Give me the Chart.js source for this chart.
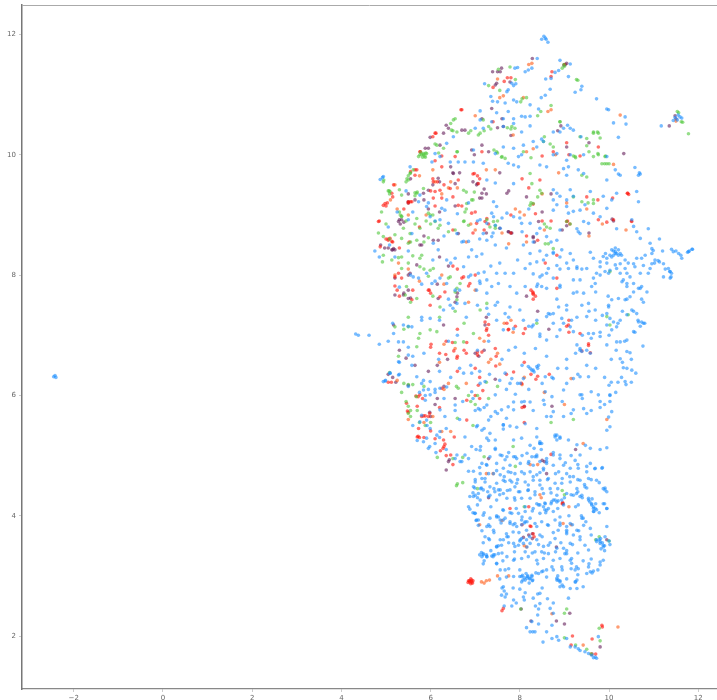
<!DOCTYPE html>
<html>
<head>
<style>
body { margin: 0; background: #fff; }
#wrap { width: 717px; height: 700px; }
</style>
<script src="https://cdn.jsdelivr.net/npm/chart.js@4/dist/chart.umd.min.js"></script>
</head>
<body>
<div id="wrap"><canvas id="myChart" width="717" height="700"></canvas></div>
<script>
var xTicks = [-2, 0, 2, 4, 6, 8, 10, 12];
var yTicks = [2, 4, 6, 8, 10, 12];

// values, [x, y]
var blue = [[-2.45,6.31],[-2.42,6.33],[-2.4,6.3],[8.49,11.92],[8.54,11.97],[8.57,11.94],[8.59,11.92],[8.63,11.87],[8.39,11.6],[8.9,11.57],[9.13,11.51],[8.87,11.4],[8.79,11.37],[8.7,11.27],[8.58,11.26],[9.09,11.3],[8.12,11.38],[8.19,11.41],[8.27,11.44],[7.89,11.44],[7.95,11.45],[7.82,11.19],[7.91,11.18],[7.86,11.15],[7.21,11.18],[9.39,11.14],[9.37,11.08],[9.24,11.04],[8.68,11.09],[8.57,10.99],[8.48,10.95],[9.72,10.93],[7.71,11.05],[7.74,11.08],[7.35,10.97],[7.5,10.88],[7.39,10.89],[7.67,10.86],[7.86,10.91],[7.93,10.88],[9.95,10.76],[9.99,10.75],[8.23,10.83],[8.42,10.76],[7.11,10.73],[7.74,10.72],[7.48,10.7],[8.04,10.64],[8.12,10.63],[8.23,10.64],[7.63,10.6],[7.86,10.6],[10.36,10.63],[10.1,10.53],[10.38,10.51],[11.17,10.48],[11.55,10.66],[11.59,10.63],[11.48,10.62],[11.53,10.58],[11.63,10.61],[11.44,10.57],
[7.11,10.58],[7.37,10.55],[7.63,10.47],[7.86,10.52],[8.04,10.38],[8.23,10.48],[7,10.44],[7.18,10.44],[8.75,10.38],[8.98,10.44],[9.07,10.49],[9.13,10.44],[8.9,10.38],[9.2,10.41],[9.37,10.3],[10.21,10.29],[8.49,10.26],[8.53,10.22],[8.3,10.22],[8.08,10.16],[7.86,10.11],[7.63,10.13],[6.96,10.08],[6.36,10.19],[6.51,10.3],[6.1,10.02],[6.21,9.97],[6.44,9.88],[6.62,9.88],[6.77,9.88],[6.96,9.88],[7.18,9.86],[7.45,10.02],[7.74,9.86],[7.86,9.83],[8.04,10],[7.97,9.97],[8.38,10.13],[8.75,10],[8.83,10.02],[9.05,9.91],[9.13,10],[9.09,9.8],[9.43,10],[9.95,9.97],[10.58,9.79],[10.68,9.7],[10.7,9.68],[10.66,9.66],[10.21,9.68],[10.14,9.75],[10.25,9.66],[9.31,9.75],[9.43,9.69],[9.05,9.66],[8.98,9.77],[8.45,9.83],[8.6,9.8],[7.97,9.8],[6.03,9.88],[5.54,9.8],[4.87,9.59],[4.92,9.62],[4.94,9.64],
[7.26,9.58],[7.45,9.53],[7.86,9.52],[8.75,9.42],[8.83,9.36],[8.75,9.25],[8.9,9.31],[9.13,9.42],[9.2,9.31],[9.05,9.25],[9.58,9.39],[9.87,9.31],[9.95,9.58],[10.17,9.36],[10.66,9.22],[10.62,9.39],[7.41,9.22],[7.48,9.14],[7.37,9.03],[7.41,8.97],[6.36,9.25],[6.25,9.11],[6.32,9.08],[5.76,9.33],[5.73,9.22],[8.83,9.17],[8.75,9.08],[9.05,9.14],[9.09,9.03],[9.2,9.06],[9.35,9.08],[9.46,9.17],[9.65,9.03],[9.95,9.11],[10.06,9.25],[9.8,8.97],[9.43,8.89],[9.54,8.86],[9.28,8.77],[9.31,8.72],[9.35,8.69],[10.17,8.77],[10.51,8.92],[10.55,8.81],[10.62,8.72],[10.88,8.77],[10.7,8.61],[10.92,8.53],[11.13,8.6],[10.99,8.41],[10.96,8.36],[11.2,8.4],[11.4,8.43],[11.5,8.4],[11.61,8.33],[11.8,8.4],[11.86,8.43],[11.76,8.38],[11.13,8.22],[11.02,8.2],[11.1,8.24],[11.26,8.1],[11.36,8.06],[11.39,7.97],[11.4,8.03],
[10.1,8.4],[10.14,8.45],[10.21,8.42],[10.14,8.36],[10.25,8.36],[10.28,8.33],[10.06,8.3],[9.92,8.36],[9.8,8.22],[9.95,8.2],[10.36,8.25],[10.43,8.2],[10.58,8.14],[10.7,8.03],[10.62,8.28],[10.77,8.16],[10.17,8.11],[10.25,8.03],[9.99,8.03],[9.8,8],[9.65,7.95],[10.32,7.92],[10.4,7.86],[10.66,7.78],[10.55,7.72],[10.73,7.6],[10.77,7.55],[10.85,7.72],
[9.28,8.14],[9.39,8.1],[9.65,8.28],[9.58,8.38],[9.2,8.25],[9.05,8.2],[8.9,8.1],[8.83,8.16],[8.75,8.38],[8.6,8.33],[8.45,8.4],[8.23,8.36],[8.08,8.5],[8.3,8.02],[8.5,8],[8.6,8.03],[8.9,8.3],[8.4,7.85],[8.6,7.78],[8.9,7.8],[9.2,7.92],[9.43,7.7],[9.7,7.72],[9.98,7.65],[9.99,7.5],[9.85,7.33],[9.7,7.25],[9.55,7.4],[9.28,7.3],[9.05,7.5],[8.83,7.6],[8.68,7.35],[8.98,7.2],[9.2,7.06],[9.4,7],[9.6,6.95],[9.8,7.05],[10,7],[10.2,7.2],[10.3,7.4],[10.4,7.6],[10.55,7.4],[10.65,7.25],[10.7,7.15],[10.8,7.2],[10.58,7.05],[10.35,6.9],[10.16,6.75],[10.05,6.6],[10.3,6.55],[10.5,6.6],[10.4,6.45],[10.28,6.3],[10.2,6.22],[10.15,6.05],[10.02,6],[9.9,6.3],[9.7,6.45],[9.5,6.5],[9.3,6.35],[9.05,6.6],[9.25,6.7],[9.5,6.75],[8.85,6.45],[8.72,6.3],[8.5,6.2],[8.6,6.65],[8.35,6.78],[8.1,6.7],[8.05,6.5],[8.4,6.45],[8.42,6.5],[8.3,6.42],[8.2,6.1],[7.95,6.2],[7.9,6.02],[8.1,5.9],[8.3,5.75],[8.55,5.85],[8.7,5.65],[8.95,5.9],[9.15,5.7],[9.4,5.95],[9.6,5.75],[9.8,5.8],[10.02,5.9],
[4.94,6.23],[4.98,6.24],[4.99,6.25],[5.09,6.37],[9.35,6.75],[9.39,6.73],[9.58,6.7],[9.95,6.84],[10.17,6.89],[10.4,6.73],[10.47,6.71],[10.76,6.82],[10.25,6.61],[10.32,6.46],[10.51,6.42],[10.6,6.37],[10.38,6.18],[10.36,6.23],[10.5,6.22],[10,6.17],[10.05,6.22],[10.02,6.01],[9.9,5.85],[9.76,6.01],[9.6,6.06],[9.35,6.01],[9.43,5.78],[9.5,5.7],[9.8,5.9],[9.99,5.64],[10.06,5.73],[10.02,5.48],[9.95,5.42],[9.95,5.13],[9.8,5.1],[9.58,5.12],[9.47,5.17],[9.28,5.18],[9.09,5.26],[8.9,5.31],[8.79,5.34],[8.83,5.26],[8.45,5.2],[8.38,5.45],[8.12,5.53],[7.93,5.47],[7.78,5.49],[7.63,5.51],[7.63,5.44],
[7.45,5.1],[7.6,5],[7.75,5.05],[7.9,4.98],[8.05,5],[8.2,4.9],[8.32,5.12],[8.48,5.1],[8.6,4.9],[8.75,5.05],[8.9,4.95],[9.02,4.88],[9.15,5],[9.3,4.85],[9.5,4.82],[9.68,4.78],[9.85,4.8],[7.25,4.85],[7.1,4.8],[7,4.6],[7.15,4.62],[7.3,4.7],[7.48,4.75],[7.65,4.65],[7.8,4.72],[7.95,4.6],[8.1,4.7],[8.3,4.65],[8.45,4.72],[8.62,4.6],[8.8,4.7],[8.95,4.62],[9.12,4.65],[9.3,4.6],[9.45,4.52],[9.6,4.6],[9.78,4.55],[9.95,4.4],
[6.95,4.38],[7.05,4.3],[7.12,4.45],[7.28,4.4],[7.42,4.45],[7.55,4.35],[7.72,4.42],[7.88,4.3],[8,4.4],[8.18,4.42],[8.34,4.35],[8.5,4.45],[8.7,4.38],[8.85,4.45],[9,4.3],[9.15,4.35],[9.3,4.4],[9.4,4.3],[9.62,4.28],[9.7,4.2],[9.72,4.1],[9.78,4.05],[9.9,4.2],[9.95,4.12],
[6.85,4.15],[6.95,4.05],[7.05,4.18],[7.2,4.05],[7.35,4.15],[7.48,4],[7.62,4.1],[7.78,4.05],[7.92,4.12],[8.05,3.98],[8.12,4.15],[8.28,4.08],[8.42,4.18],[8.58,4.05],[8.7,4.2],[8.85,4.12],[8.98,4.18],[9.1,4],[9.25,4.15],[9.38,4],
[7.02,3.92],[7.15,3.75],[7.3,3.85],[7.42,3.72],[7.58,3.88],[7.7,3.7],[7.85,3.85],[7.98,3.72],[8.1,3.88],[8.22,3.65],[8.38,3.82],[8.5,3.65],[8.62,3.85],[8.75,3.72],[8.9,3.88],[9.05,3.7],[9.18,3.85],[9.32,3.75],[9.48,3.9],[9.6,3.68],[9.78,3.6],[9.85,3.55],[9.9,3.5],[10,3.58],[10.02,3.52],[9.82,3.45],[9.9,3.42],
[7.18,3.55],[7.32,3.6],[7.35,3.42],[7.25,3.35],[7.4,3.32],[7.52,3.5],[7.6,3.38],[7.75,3.55],[7.88,3.4],[8,3.58],[8.12,3.4],[8.15,3.6],[8.28,3.38],[8.42,3.52],[8.55,3.38],[8.68,3.55],[8.8,3.4],[8.92,3.55],[9.05,3.42],[9.18,3.52],[9.3,3.38],[9.42,3.25],[9.55,3.2],[9.62,3.05],[9.75,3.1],[9.8,3.18],[9.6,3.28],
[7.2,3.25],[7.1,3.35],[7.48,3.2],[7.62,3.25],[7.75,3.12],[7.88,3.28],[8,3.1],[8.1,2.97],[8.18,3],[8.22,2.95],[8.28,2.92],[8.36,3.05],[8.4,3.2],[8.52,3.08],[8.6,2.98],[8.72,3.15],[8.85,3],[8.95,3.1],[9.05,2.95],[9.15,3.12],[9.25,2.9],[9.3,3.02],[9.42,2.82],[7.55,2.95],[7.7,2.98],[7.6,2.8],[7.65,2.75],[7.7,2.7],[7.85,2.8],[8,2.78],[8.12,2.72],[8.4,2.7],[8.5,2.8],[8.62,2.62],[8.75,2.55],[8.95,2.85],[8.35,2.5],[8.42,2.45],[8.1,2.6],[7.92,2.55],[7.82,2.5],[7.65,2.5],[8.75,2.38],
[8.15,2.14],[8.27,2.24],[8.23,2.07],[8.29,2.07],[8.34,2.07],[8.42,2.2],[8.6,2.07],[8.72,2.18],[8.72,1.96],[8.83,1.99],[8.87,1.93],[9.05,1.96],[9.13,1.82],[9.24,1.82],[9.31,1.79],[9.35,1.76],[9.46,1.74],[9.54,1.71],[9.61,1.68],[9.69,1.65],[9.72,1.63],[9.65,1.64],[9.76,1.99],[8.4,2.35],[8.52,1.9],
[5.8,6.2],[5.95,6.1],[6.1,6.05],[6.3,5.95],[6.55,5.75],[6.72,5.9],[6.95,5.95],[7,5.75],[7.2,5.8],[7.35,5.65],[7.5,5.7],[7.7,5.62],[7.05,5.5],[7.2,5.45],[6.65,5.6],[6.35,5.45],[6.2,5.3],[5.92,5.5],[5.98,5.15],[6.12,5.05],[6.35,5.1],[6.55,4.95],[6.7,4.9],[6.85,4.95],[7.02,5.1],[7.12,5.15],[7.3,5.25],[5.88,6],[6.2,6.4],[6.45,6.3],[6.65,6.45],[6.9,6.5],[7.1,6.4],[7.32,6.35],[7.55,6.25],[7.7,6.1],[5.3,6.55],[5.6,6.65],[5.85,6.7],[6.18,6.6],[5.5,6.8],[7.6,6.6],[7.75,6.75],[6.6,7],[6.4,6.9],[7.05,6.75],[7.3,6.9],[7.9,6.8],[5.3,6.35],[5.5,6.15],[5.75,6.05],[5.6,5.5],[5.7,5.25],
[4.32,7.02],[4.38,7],[4.62,7],[4.85,6.85],[5.05,6.9],[5.15,7.2],[5.5,7.15],[5.8,7.3],[6.2,7.25],[6.5,7.45],[6.8,7.3],[7.05,7.5],[7.3,7.35],[7.5,7.55],[7.75,7.3],[8,7.42],[8.2,7.15],[8.45,7.02],[7.1,7.9],[6.9,8],[6.65,7.75],[6.4,7.6],[6.1,7.9],[5.8,7.85],[5.55,8],[5.3,7.8],[5.2,8.3],[4.85,8.3],[4.75,8.4],[5.08,8.5],[5.5,8.4],[6.05,8.25],[6.45,8.2],[6.85,8.3],[7.15,8.35],[7.45,8.5],[7.7,8.45],[7.95,8.25],[7.55,8.2],[7.35,8.15],[7.2,8.05],[6.3,8.65],[6.7,8.55],[7.1,8.6],[7.4,8.7],[7.6,8.95],[6.1,8.9],[6.6,9.02],[6.85,9.2],[7.05,8.9],[5.95,9.2],[5.45,9.4],[5.25,9.05],[5.05,8.8],[5.6,9.05],[8,8.95],[8.2,9.1],[8.05,8.72],[8.3,8.55],[8.7,8.55],[8.9,8.75]];

var blueLower = [[7.45,5.12],[7.56,5.01],[7.71,4.98],[7.86,4.98],[7.93,4.95],[7.67,4.93],[7.33,4.98],[7.15,4.87],[7.26,4.84],[7.48,4.87],[7.63,4.79],[7.78,4.84],[8.01,4.87],[8.16,5.04],[8.27,4.98],[8.38,4.98],[8.45,4.9],[8.3,4.84],[8.6,4.95],[8.75,5.01],[8.9,5.01],[8.98,4.84],[9.13,4.79],[9.24,4.92],[9.35,5.01],[9.31,4.79],[9.58,4.87],[9.69,4.79],[9.84,4.79],[9.5,4.73],[9.2,4.65],[9.05,4.7],[8.87,4.73],[8.75,4.84],[8.53,4.76],[8.38,4.68],[8.23,4.73],[8.04,4.73],[7.89,4.7],[7.74,4.73],[7.56,4.68],[7.41,4.7],[7.22,4.62],[7.11,4.7],[6.96,4.74],[6.85,4.74],[7,4.56],[6.96,4.48],[7.22,4.56],[7.48,4.54],[7.63,4.59],[7.82,4.56],[7.93,4.54],[8.12,4.56],[8.3,4.59],[8.45,4.51],[8.64,4.62],[8.79,4.54],[8.94,4.54],[9.13,4.56],[9.35,4.59],[9.54,4.62],[9.72,4.59],[9.87,4.45],[9.91,4.43],[9.46,4.48],[9.28,4.45],[9.2,4.34],[9.39,4.34],[9.05,4.37],[8.83,4.34],[8.68,4.45],[8.53,4.37],[8.34,4.4],[8.19,4.43],[7.97,4.4],[7.78,4.43],[7.63,4.37],[7.52,4.43],[7.33,4.48],[7.18,4.43],[7.07,4.37],[7,4.34],[6.88,4.32],[7.11,4.26],[7.3,4.32],[7.48,4.26],[7.71,4.29],[7.89,4.26],[8.04,4.29],[8.23,4.29],[8.38,4.2],[8.57,4.2],[8.75,4.26],[8.83,4.23],[8.94,4.26],[9.35,4.32],[9.54,4.26],[9.61,4.2],[9.65,4.15],[9.69,4.12],[9.87,4.2],[9.95,4.12],[9.65,4.07],[9.39,3.96],[9.43,3.84],[9.28,3.76],[9.05,3.82],[8.9,3.98],[8.75,4.07],[8.6,4.09],[8.45,4.04],[8.3,4.12],[8.12,4.07],[7.97,4.04],[7.82,4.04],[7.63,4.09],[7.48,3.98],[7.33,3.96],[7.18,4.01],[7,4.04],[7.03,3.93],[7.07,3.84],[7.26,3.82],[7.41,3.76],[7.56,3.93],[7.67,3.96],[7.78,3.9],[7.89,3.87],[8.04,3.93],[8.16,3.9],[8.34,3.87],[8.49,3.9],[8.64,3.84],[8.79,3.93],[8.9,3.84],[9.05,3.73],[9.13,3.87],[9.35,3.65],[9.58,3.79],[9.72,3.6],[9.8,3.54],[9.87,3.48],[9.95,3.82],[9.91,3.65],[9.54,3.43],[9.13,3.54],[8.98,3.46],[8.83,3.46],[8.64,3.37],[8.49,3.4],[8.34,3.4],[8.16,3.48],[8.01,3.6],[7.86,3.54],[7.71,3.65],[7.56,3.6],[7.48,3.48],[7.3,3.62],[7.18,3.37],[7.26,3.32],[7.41,3.35],[7.52,3.37],[7.71,3.32],[7.86,3.26],[8.04,3.29],[8.19,3.32],[8.38,3.26],[8.53,3.29],[8.75,3.26],[8.9,3.29],[9.05,3.37],[9.13,3.26],[9.16,3.21],[8.94,3.15],[8.75,3.1],[8.6,3.1],[8.49,3.07],[8.42,3.04],[8.27,2.99],[8.16,2.96],[8.07,2.93],[8.04,2.99],[7.86,2.99],[7.67,3.1],[7.56,3.1],[7.48,3.21],[7.18,3.2],[7.15,3.32],[7.63,2.82],[7.59,2.68],[7.67,2.65],[7.86,2.6],[8.08,2.65],[8.3,2.63],[8.45,2.71],[8.45,2.54],[8.68,2.46],[8.9,2.82],[8.98,2.82],[9.13,2.79],[9.28,2.79],[9.09,2.63],[8.83,2.93],[8.9,2.92],[9.28,2.93],[9.24,3.1],[9.31,3.12],[9.5,3.04],[9.58,3.07],[9.65,3.08],[9.87,3.26],[9.8,3.23],[9.54,3.15]];

var blueRight = [[10.06,8.42],[10.14,8.39],[10.17,8.36],[10.1,8.33],[10.21,8.33],[10.02,8.33],[9.95,8.28],[9.87,8.31],[9.8,8.14],[9.72,8.03],[9.91,8.06],[10.02,8.08],[10.14,8.17],[10.25,8.19],[10.36,8.11],[10.4,8.03],[10.47,7.97],[10.29,7.89],[10.4,7.81],[10.55,7.86],[10.7,7.78],[10.73,7.81],[10.47,7.64],[10.36,7.59],[10.21,7.61],[9.99,7.47],[10.06,7.59],[9.95,7.36],[10.02,7.28],[10.1,7.22],[10.25,7.25],[10.4,7.34],[10.51,7.42],[10.62,7.36],[10.73,7.22],[10.77,7.2],[10.66,7.22],[10.55,7.06],[10.4,6.92],[10.25,6.89],[10.17,7.14],[9.95,7.17],[10.06,7.09],[9.8,6.98],[9.65,7.03],[9.54,7.03],[9.35,6.78],[9.28,6.84],[9.13,7.14],[9.16,7.25],[9.05,7.42],[8.87,7.47],[8.75,7.36],[8.64,7.36],[8.94,7.28],[8.9,7.09],[8.83,6.98],[8.6,6.92],[8.45,6.98],[8.3,7.17],[8.38,7.25],[9.5,7.31],[9.69,7.42],[9.54,7.53],[9.39,7.5],[9.28,7.72],[9.2,7.7],[9.35,7.92],[9.5,8.11],[9.28,8.11],[9.09,8.11],[8.9,7.83],[8.75,7.95],[8.64,8.11],[8.45,7.97],[8.49,7.81],[8.38,7.81],[9.61,7.81],[9.69,7.86],[10.73,8.28],[10.96,8.19],[11.03,8.25],[10.92,8.11],[10.88,8.03],[11.22,8.19],[11.33,8.11],[11.37,8.06],[11.37,7.95],[11.22,7.97],[10.55,8.19],[10.81,8.33],[10.96,8.44],[11.44,8.39],[11.56,8.36],[11.63,8.28],[11.78,8.39],[11.87,8.43]];

var blueLeft = [[5.5,8.92],[5.58,8.69],[5.91,9.14],[5.99,8.97],[6.21,8.92],[6.4,8.86],[6.59,8.69],[6.74,8.56],[6.85,8.56],[6.92,8.42],[7.03,8.31],[6.06,8.53],[6.17,8.42],[6.36,8.25],[6.55,8.28],[6.74,8.14],[6.85,7.97],[5.61,7.97],[5.73,7.95],[5.91,8.03],[6.03,7.86],[6.21,7.95],[6.36,7.86],[6.55,7.75],[6.77,7.53],[6.59,7.53],[6.44,7.5],[6.29,7.42],[5.99,7.28],[5.8,7.25],[5.58,7.14],[5.39,7.17],[5.17,7.03],[5.28,6.89],[5.39,6.89],[7.07,8.03],[7.26,7.92],[7.48,8.03],[7.67,8.03],[7.86,8.03],[8.12,8.11],[8.23,8.19],[8.38,8.22],[8.53,8.25],[7.11,7.86],[7.26,7.7],[7.03,7.75],[7.37,7.81],[7.52,7.86],[7.78,7.81],[7.93,7.7],[8.12,7.81],[7.45,7.5],[7.26,7.45],[7.67,7.36],[7.78,7.47],[7.48,7.25],[7.63,7.09],[7.86,7.11],[8.08,7.25],[8.27,7.14],[8.6,7.31],[8.75,7.2],[7.18,8.69],[7.26,8.58],[7.37,8.64],[7.56,8.78],[7.45,8.83],[7.26,8.86],[7.11,8.92],[7.71,9.03],[7.86,8.97],[8.04,8.86],[8.23,8.86],[8.38,8.69],[8.45,8.78],[8.6,8.64],[8.75,8.36],[8.94,8.42],[9.13,8.36],[8.83,8.58],
[5.28,6.56],[5.5,6.67],[5.58,6.5],[5.09,6.37],[5.28,6.34],[5.69,6.31],[5.84,6.25],[5.99,6.23],[6.1,6.1],[6.21,6.12],[6.36,6.14],[6.55,5.84],[6.74,6.37],[6.92,6.37],[7.11,6.2],[7.22,6.23],[6.92,6.06],[7.11,5.76],[7.26,5.84],[7.45,6.01],[7.67,6.37],[7.82,6.28],[7.78,6.2],[8.01,6.2],[8.08,6.28],[8.23,6.45],[8.27,6.42],[8.32,6.39],[8.38,6.48],[8.19,6.48],[8.57,6.31],[8.75,6.28],[9.05,6.45],[9.2,6.28],[9.35,6.31],[9.54,6.31],[9.05,6.2],[8.98,6.09],[9.39,6.01],[8.57,6.06],[8.72,5.98],[8.53,5.92],[8.23,5.89],[8.04,5.89],[7.86,5.89],[7.74,5.81],[7.86,5.76],[7.59,5.76],[7.45,5.73],[7.3,5.59],[7.07,5.78],[7.03,5.48],[7.15,5.42],[7.63,5.51],[7.86,5.26],[8.04,5.29],[8.23,5.17],[8.45,5.2],[8.6,5.65],[8.75,5.73],[8.98,5.65],[9.2,5.76],[5.99,6.01],[5.84,6.09],[5.88,5.92],[5.76,5.56],[5.8,5.67],[5.91,5.59],[5.99,5.45],[6.14,5.34],[5.91,5.29],[5.84,5.23],[5.95,5.12],[6.1,5.2],[6.21,5.4],[6.32,5.65],[6.21,5.76],[6.59,5.01],[6.66,4.9],[6.77,5.01],[6.92,5.15],[6.77,5.31],[7.26,5.29],[7.33,5.37],[7.45,5.26],[7.11,5.09]];

var blueDense = [[8,2.99],[8.06,3.01],[8.12,2.93],[8.17,2.99],[8.23,2.96],[8.27,3.01],[8.04,2.9],[8.21,2.88],[8.29,2.93],[8.14,3.04],[7.18,3.35],[7.37,3.33],[7.44,3.35],[7.26,3.32],[7.14,3.39],[8.04,3.62],[7.97,3.51],[7.89,3.49],[8.08,3.54],[8.23,3.54],[8.38,3.6],[8.45,3.68],[8.15,3.76],[8.04,3.85],[8.12,3.9],[8.23,3.96],[7.93,3.82],[7.85,3.73],[7.74,3.65],[7.63,3.6],[7.59,3.51],[7.48,3.49],[8.56,4.21],[8.64,4.12],[8.71,4.23],[8.79,4.26],[8.86,4.25],[8.56,4.1],[8.53,4.15],[8.45,4.18],[9.57,4.23],[9.61,4.18],[9.65,4.12],[9.66,4.07],[9.54,4.29],[9.8,3.57],[9.87,3.51],[9.72,3.57],[9.81,3.62],[9.01,3.37],[9.16,3.29],[9.27,3.15],[9.24,2.9],[8.86,2.93],[8.9,2.9],[8.83,2.96],[8.45,5.23],[8.83,5.34],[8.79,5.31],[8.9,5.29],[8.38,5.31],[8.49,5.2],[8.34,4.98],[8.38,5.01],[8.19,4.87],[8.53,4.79],[8.6,4.87],[8.45,4.59],[8.19,4.51],[7.78,4.59],[7.67,4.57],[7.89,4.48],[7.56,4.43],[7.44,4.4],[7.33,4.34],[7.14,4.46],[6.99,4.46],[6.96,4.32],[6.88,4.11],[6.99,4.04],[7.07,3.93],[7.22,3.65],[7.33,3.82],[7.52,3.98],[7.63,3.93],[7.78,3.87],[8.86,3.76],[8.79,3.62],[8.64,3.51],[8.53,3.49],[9.2,3.68],[9.35,3.6],[9.46,3.51],[9.05,3.76],[9.42,3.96],[9.31,4.18],[9.27,4.37],[9.5,4.46],[9.91,4.46]];

var green = [[9,11.47],[8.99,11.5],[9.27,11.25],[9.3,11.24],[8.95,11.44],[7.78,11.46],[7.52,11.42],[7.3,11.15],[7.55,11.07],[8.05,10.93],[8.02,10.88],[7.9,11.25],[8.15,10.95],[8.47,10.72],[8.4,10.65],[8.7,10.82],[8.9,10.55],[7.72,10.45],[7.8,10.43],[6.55,10.6],[6.45,10.52],[6.5,10.4],[7.2,10.4],[7.35,10.43],[6.9,10.4],[5.8,10],[5.84,10.02],[5.87,9.98],[5.78,10.04],[5.82,9.96],[5.89,10.03],[6.1,10.18],[6.18,10.03],[6.6,10.05],[7.42,10.08],[7.5,10.03],[7.6,9.97],[8.25,9.95],[8.55,10.3],[8.68,10.18],[9.2,9.98],[9.25,9.95],[9.5,10.15],[9.55,10.05],[9.65,10.36],[9.74,10.38],[9.8,10.28],[9.75,10.02],[9.92,9.98],[9.9,9.85],[10,9.85],[5.55,9.7],[5.5,9.65],[5.47,9.6],[5.45,9.55],[4.95,9.58],[5.05,9.4],[5.08,9.35],[5.7,9.38],[5.65,9.32],[5.3,9.42],[6.8,9.38],[6.98,9.38],[6.95,9.25],[6.8,9.1],[8.25,9.2],[8.4,9.3],[9.2,9.3],[9.53,9.2],[9.65,9.25],[5.3,9.05],[5.35,8.98],[5.45,8.9],[5.65,8.85],[6,8.85],[6.05,9],[5.9,8.9],[6.75,8.9],[7.45,8.82],[7.5,8.9],[8.55,8.85],[8.6,8.8],[8.68,8.78],[5,8.85],[5.08,8.6],[5.55,8.55],[5.85,8.55],[5.95,8.62],[6.4,8.72],[6.55,8.75],[5.5,8.2],[5.6,8.32],[5.35,8.3],[4.92,8.22],[5.85,8.1],[5.95,7.98],[6.4,7.95],[6.05,7.65],[5.55,7.55],[6.55,7.4],[6.75,7.2],[5.4,7.1],[5.5,7.3],[6.2,7.3],[5.28,6.65],[5.08,6.38],[5.4,6.2],[5.5,6.18],[5.6,6.18],[5.85,6.15],[5.35,6.05],[5.68,5.98],[6.58,6.15],[6.62,6.12],[6.85,6],[7.05,6],[7.25,6.22],[5.45,5.9],[5.5,5.82],[5.55,5.75],[5.7,5.75],[6.6,5.62],[6.9,5.9],[7,5.85],[7.5,6.15],[7.3,5.95],[5.5,5.7],[5.55,5.65],[5.75,5.55],[5.88,5.5],[6,5.55],[6.95,5.5],[7.2,4.98],[6.72,4.97],[6.5,4.95],[6.15,4.97],[6.6,4.53],[6.72,4.55],[6.58,4.5],[7.05,4.45],[7.85,5.15],[7.9,4.82],[8.1,4.15],[9,4.35],[8.95,4.42],[8.7,5.55],[9.2,5.6],[10,3.58],[9.78,3.65],[9.7,3.6],[8.02,2.45],[9.05,2.45],[9,2.38],[9.78,2.13],[9.8,1.92],[9,1.97],[9.25,1.85],[9.5,1.78],[9.6,1.7],[11.53,10.72],[11.56,10.7],[11.62,10.55],[11.65,10.54],[11.78,10.35]];

var greenLeft = [[4.94,9.55],[5.07,9.4],[5.09,9.39],[4.9,9.05],[4.83,8.7],[4.94,8.64],[5.35,9.33],[5.5,9.58],[5.54,9.69],[5.61,9.75],[5.65,9.37],[5.69,9.36],[5.84,9.44],[5.32,9],[5.35,8.97],[5.69,8.94],[5.95,9.03],[5.99,9],[6.1,8.89],[6.21,8.83],[6.17,8.78],[5.76,8.78],[5.54,8.69],[5.39,8.78],[5.2,8.67],[5.35,8.61],[5.5,8.53],[5.69,8.58],[5.8,8.33],[5.76,8.28],[5.28,8.29],[5.13,8.25],[4.94,8.33],[5.35,8.11],[5.76,8.14],[5.99,8.08],[6.06,8.11],[6.44,7.97],[6.59,7.78],[6.55,7.72],[6.66,7.86],[6.74,8.89],[6.85,8.83],[6.77,9.05],[6.81,9.19],[6.92,9.25],[6.74,9.41],[7.45,8.78],[7.33,8.8],[7.26,8.92],[7.41,8.89],[7.48,10.05],[7.59,9.96],[7.67,9.94],[7.89,10.44],[7.82,10.47],[8.08,10.05],[8.23,9.69],[8.27,9.52],[8.45,9.41],[8.49,9.36],[8.23,9.16],[8.3,9.19],[8.57,8.52],[8.64,8.52],[8.75,8.44],[8.75,10.13],[8.53,10.22],[8.9,10.55],[9.35,10.3],[9.5,10.27],[9.65,10.38],[9.76,10.36],[9.24,9.97],[9.65,9.97],[9.76,10],[9.91,9.97],[9.84,9.85],[9.95,9.85],[9.39,9.66],[9.5,9.63],[9.39,9.22],[9.65,9.19],[9.13,8.85],[9.05,8.89],[10.02,8.06],[9.95,7.31],[10.02,7.17],[10.43,7.34],[8.38,7.2],[6.96,7.03],[5.73,6.95],[5.69,6.81],[7.11,7.42],[7.26,7.53],[6.59,7.59],[6.21,7.47],[5.46,7.81],[5.43,7.67],[5.69,7.61],[5.2,7.14],[5.5,7.14],[5.76,7.03],[5.99,7.09],[6.14,7.06],[6.55,6.88],[6.74,6.89],[7.18,10.58],[7.3,10.47],[7.11,10.36],[7.07,10.33],[6.85,10.36],[6.59,10.38],[6.47,10.41],[6.51,10.58],[6.14,10.16],[6.29,10.11],[6.59,10.05],[5.91,10.02],[5.73,9.97],[5.76,10],[5.84,10],[5.88,9.96]];

var red = [[8.72,11.38],[9,11.5],[8.7,11.3],[7.8,11.28],[7.72,11.28],[7.4,11.12],[7.65,11.22],[6.68,10.75],[7.4,10.55],[6.12,10.36],[6.05,10.3],[5.77,10.05],[6.1,9.9],[6.25,9.98],[6.55,9.97],[7.15,10.05],[8.5,9.98],[8.75,10.05],[9.05,10.2],[9.1,10],[9.35,9.98],[10.42,9.36],[10.44,9.34],[9.75,9.25],[9.5,9.3],[9.07,8.9],[9.12,8.85],[9.95,8.88],[10.5,8.9],[5.65,9.75],[5.55,9.72],[6.05,9.6],[6.15,9.55],[6,9.4],[6.3,9.5],[6.5,9.3],[6.95,9.68],[7.05,9.65],[7.1,9.6],[8.45,9.58],[8.2,9.45],[8.05,9.6],[5.55,9.22],[5.5,9.2],[5.03,9.2],[5,9.15],[5.15,9.3],[5.4,9.1],[6.1,9.15],[6.25,9.28],[6.7,9.15],[7,9.05],[7.8,9],[8.3,9.18],[8.35,9.02],[8.5,8.9],[8.7,8.9],[4.85,8.9],[5,8.6],[5.05,8.6],[5.15,8.55],[5.3,8.45],[5.52,8.55],[5.75,8.8],[6.5,8.75],[6.95,8.7],[7.2,8.75],[7.3,8.85],[7.8,8.7],[8.15,8.65],[8.4,8.58],[5.35,7.95],[5.2,7.82],[5.25,7.75],[5.3,7.65],[5.6,7.75],[5.95,7.75],[6,7.7],[6.7,7.95],[6.85,7.82],[7,8],[6.6,8.1],[6.5,8.15],[8.3,7.7],[8.35,7.65],[8.3,7.6],[8.25,7.75],[9.1,7.25],[9.05,7.15],[9.1,7.05],[7.3,7.18],[7.25,7.08],[7.3,7],[7.75,7.1],[7.9,7.15],[6.6,7.1],[6.35,6.9],[6.6,6.65],[6.75,6.75],[7.45,6.78],[7.15,6.72],[7.05,6.72],[8.1,6.55],[8.25,6.35],[8.4,6.32],[7,6.45],[7.1,6.3],[6.2,6.7],[6,6.8],[6.8,6.7],[6.6,6.4],[5.12,6.22],[5.82,5.95],[5.72,5.98],[5.7,5.82],[6.2,5.8],[5.98,5.7],[5.88,5.66],[5.95,5.65],[5.5,5.72],[5.85,5.3],[5.72,5.32],[5.75,5.3],[6.1,5.28],[6.3,5.15],[6.28,5.12],[6.22,5.08],[6.35,5],[6.5,4.85],[7,6],[7.1,5.95],[8.05,5.8],[8.1,5.55],[8.2,4.15],[8.95,4.2],[8.05,3.85],[8.25,3.82],[8.3,3.7],[8.32,3.65],[7.6,2.42],[9.15,1.85],[9.62,1.95],[9.85,2.15],[9.7,1.7],[6.84,2.89],[6.87,2.92],[6.9,2.95],[6.92,2.9],[6.9,2.87],[6.95,2.92],[6.88,2.9],[6.85,2.92],[6.92,2.93],[6.94,2.88]];

var redExtra = [[4.83,8.89],[4.87,8.47],[5.05,8.58],[5.13,8.56],[5.09,8.61],[4.94,9.16],[4.98,9.19],[5.13,9.36],[5.17,9.5],[5.5,9.22],[5.58,9.22],[5.65,9.66],[5.69,9.75],[6.06,9.55],[6.1,9.39],[6.06,9.28],[6.21,9.41],[6.44,9.44],[6.62,9.16],[6.92,9.03],[7.03,8.86],[7.22,8.89],[7.26,8.94],[7.07,9.52],[6.98,9.69],[6.62,9.58],[6.25,9.8],[6.1,10.36],[5.76,10.05],[6.7,10.75],[6.88,7.86],[6.74,7.97],[5.97,7.75],[5.99,7.5],[5.2,7.97],[5.28,8.03],[5.58,7.59],[6.32,7.72],[6.21,7.64],[7.22,7.22],[7.26,7.11],[7.71,7.2],[7.74,7.09],[8.12,7.11],[8.08,7.03],[8.3,7.68],[8.29,7.72],[8.83,7.78],[9.09,7.17],[9.35,7.03],[9.54,6.86],[10.1,8.92],[10.41,9.36],[10.51,8.89],[10.08,9.28],[9.76,10.13],[9.76,8.92],[9.05,8.89],[8.83,8.33],[8.57,8.2],[8.83,7.95],[5.8,5.65],[5.84,5.66],[5.7,5.31],[5.73,5.45],[6,5.41],[6.29,5.26],[6.32,5.19],[6.53,5.31],[6.45,5.01],[5.48,5.74],[5.46,5.87],[5.67,5.99],[5.76,6.01],[6.25,6.12],[6.81,5.92],[7.07,6.17],[7.17,6.08],[6.81,5.59],[7.46,6.49],[7.47,6.65],[7.7,6.35],[7.86,6.39],[8.04,6.2],[8.36,6.27],[8.66,6.35],[9.39,6.74],[9.54,6.83],[9.58,6.71],[8.1,5.81],[8.7,5.02],[7.78,4.12],[8.96,4.22],[8.23,3.83],[7.63,2.46],[9.84,2.18],[9.18,2],[5.05,6.22],[6.81,6.88],[6.49,6.88],[6.01,6.85],[6.34,6.68],[6.52,6.74],[6.59,6.62],[7.05,6.67]];

var orange = [[8.2,11.5],[8.27,11.52],[7.5,11.26],[7.55,10.95],[7.63,10.98],[8.08,10.95],[8.63,10.72],[8.7,10.75],[10.25,10.66],[11.5,10.56],[7,10.65],[7.85,10.33],[7.45,9.75],[7.25,9.75],[8.15,10.05],[8.3,10.1],[8.8,10],[8.87,9.7],[9.05,9.2],[9.5,9.1],[10.1,9.84],[10.38,8.75],[9.85,8.85],[9.55,8.65],[6.05,9.75],[5.75,9.65],[6.1,9.55],[6.45,9.55],[6.4,9.45],[6.6,9.45],[6.25,9.35],[5.2,9.5],[5.1,9.25],[5.25,9.1],[5.5,9],[5.9,9],[7.9,9.1],[8,9.05],[8.1,9],[8.5,9.35],[8.55,8.75],[7,8.75],[6.9,8.85],[7.6,8.7],[6.8,8.55],[7.75,8.52],[8.15,8.55],[5.28,8.2],[5.2,8],[5.5,8.1],[5.75,7.9],[6.25,8],[6.3,7.85],[6.85,7.55],[7,7.75],[7.65,7.2],[7.8,7.25],[7.85,7.05],[6.55,6.78],[6.3,6.85],[7.2,6.9],[7.3,6.55],[7.55,6.52],[6.2,6.55],[6.4,6.2],[6.8,6.2],[7.35,6.6],[7.1,6.95],[7.5,6.7],[6.3,6.1],[5.25,6.25],[5.5,5.6],[6.05,5.65],[5.85,5.55],[6.45,5.4],[6.25,5.4],[8.55,6.05],[8.05,6.18],[8.1,6.3],[9,5.85],[9.42,5.2],[9.15,6.28],[9.95,5.6],[8.23,4.85],[8.4,4.85],[8.48,4.3],[8.45,4.35],[9.1,4.15],[7.1,3.85],[8.97,3.87],[9.15,3.85],[8.1,3.5],[8.15,3.48],[7.6,3.92],[7.4,4.7],[7.25,4.7],[7.75,3],[7.14,2.9],[7.2,2.88],[7.25,2.92],[7.32,2.93],[7.5,3],[8.72,2.37],[9.42,1.85],[9.6,1.7],[10.2,2.15]];

var purple = [[8.28,11.6],[7.39,11.38],[7.5,11.38],[7.59,11.44],[7.56,11.38],[7.48,11.19],[7.45,11.16],[7.78,11.21],[9.05,11.52],[8.99,11.49],[9.02,11.5],[6.35,10.49],[6.4,10.44],[6.29,10.36],[6.7,10.41],[6.77,10.41],[5.99,10.29],[5.88,10.11],[5.95,10.11],[6.21,10.16],[6.92,10.08],[6.98,10],[7.15,10.16],[7.3,10.05],[7.63,10.47],[7.15,10.6],[7.37,10.77],[7.5,10.45],[7.6,10.6],[7.8,10.32],[8.85,10.4],[8.92,10.48],[9.05,10.13],[9.55,10.2],[10.33,10.02],[11.35,10.48],[11.48,10.65],[11.5,10.6],[7.55,9.7],[6.5,9.7],[6.45,9.8],[6.65,9.7],[6.2,9.55],[6.05,9.5],[6.95,9.55],[7.05,9.52],[7.2,9.43],[7.25,9.35],[7.1,9.28],[5.55,9.6],[5.5,9.35],[5.65,9.25],[5.5,9.2],[5.85,9.25],[5.95,9.1],[6.2,9.05],[6.55,9.15],[7.75,9.4],[8.15,9.3],[8.5,9.05],[8.7,9.35],[8.95,8.75],[9.05,8.82],[9.55,8.7],[10.1,8.9],[10.07,8.93],[5.32,8.85],[5.3,8.92],[5.4,8.88],[5.15,8.42],[5.05,8.45],[4.88,8.5],[4.97,8.45],[5.8,8.5],[5.85,8.65],[6.2,8.3],[6.4,8.15],[7.25,8.7],[7.55,8.78],[7.75,8.72],[7.8,8.7],[8.33,8.55],[8.3,8.62],[5.2,7.95],[5.5,8],[5.5,7.75],[5.4,7.7],[5.55,7.62],[6.15,7.85],[6.55,7.55],[6.6,7.7],[8.15,7.65],[8.4,7.4],[8.65,7.1],[7.25,7.3],[5.3,6.75],[5.65,6.5],[5.45,6.62],[5.05,6.35],[5.15,6.3],[5.22,6.22],[5.5,6.17],[5.95,6.4],[6.15,6.5],[6.3,6.15],[6.15,5.95],[6.1,5.85],[6.38,6.6],[7,6.7],[7.08,6.65],[7.2,6.75],[7.45,6.27],[6.55,5.95],[6,5.65],[5.98,5.72],[6.4,4.9],[6.35,4.76],[6.42,4.93],[7.3,4.95],[8.1,5.82],[8.72,5.82],[9.25,5.1],[8.5,4.92],[8.55,4.9],[8.6,4.7],[7.3,4.3],[8.97,4.2],[9.95,3.6],[8.08,3.64],[8.2,3.68],[8.28,3.7],[8.28,3.62],[8.82,3.48],[8.03,2.45],[9.12,2.38],[8.25,2.25],[8.82,2.25],[9,2.2],[9.8,1.82],[9.62,1.7],[5.17,8.44],[5.13,8.42],[5.2,8.42],[5.76,8.5],[5.35,8.92],[5.28,8.89],[5.5,9.22],[5.84,9.36],[5.95,9.41],[6.17,9.61],[6.51,9.69],[6.55,9.52],[7.03,9.5],[7.15,9.36],[7.15,9.28],[7.71,9.36],[7.74,8.72],[7.82,8.7],[8.3,8.64],[8.42,8.89],[6.62,8.69],[6.06,8.58],[6.17,8.58],[5.69,8.17],[5.54,8.03],[5.2,7.67],[5.39,7.67],[5.5,7.61],[6.17,7.61],[6.59,7.64],[5.17,7.17],[6.29,7.17],[7.22,7.17]];

var seriesList = [
  { label: 'blue', data: blue.concat(blueLower, blueRight, blueLeft, blueDense), color: 'rgba(30,144,255,0.6)' },
  { label: 'green', data: green.concat(greenLeft), color: 'rgba(80,200,60,0.6)' },
  { label: 'red', data: red.concat(redExtra), color: 'rgba(255,20,10,0.6)' },
  { label: 'orange', data: orange, color: 'rgba(255,90,20,0.6)' },
  { label: 'purple', data: purple, color: 'rgba(100,30,90,0.6)' }
];

var datasets = seriesList.map(function (s) {
  return {
    label: s.label,
    data: s.data.map(function (p) { return { x: p[0], y: p[1] }; }),
    backgroundColor: s.color,
    borderWidth: 0,
    pointRadius: 1.8
  };
});

// top spine, chart.js only has the left and bottom ones here
var topLine = {
  id: 'topLine',
  afterDraw: function (chart) {
    var a = chart.chartArea, c = chart.ctx;
    c.save();
    c.strokeStyle = '#aaa';
    c.lineWidth = 1;
    c.beginPath();
    c.moveTo(a.left, a.top + 0.5);
    c.lineTo(a.right, a.top + 0.5);
    c.stroke();
    c.restore();
  }
};

function setTicks(list) {
  return function (axis) {
    axis.ticks = list.map(function (v) { return { value: v }; });
  };
}

var tickFont = { family: '"DejaVu Sans"', size: 7 };

new Chart(document.getElementById('myChart'), {
  type: 'scatter',
  data: { datasets: datasets },
  plugins: [topLine],
  options: {
    responsive: false,
    animation: false,
    // autoPadding keeps 4px for hover radius, the spines run to the edge in the original
    layout: { autoPadding: false, padding: { top: 5 } },
    plugins: { legend: { display: false }, tooltip: { enabled: false } },
    scales: {
      x: {
        min: -3.16, max: 12.42,
        afterBuildTicks: setTicks(xTicks),
        afterFit: function (axis) { axis.height = 11; axis.paddingLeft = 0; axis.paddingRight = 0; },
        border: { color: '#888', width: 1.2 },
        grid: { drawOnChartArea: false, tickLength: 3, color: '#ccc' },
        ticks: { font: tickFont, color: '#666', padding: 2, maxRotation: 0, autoSkip: false, callback: function (v) { return v < 0 ? '\u2212' + (-v) : v; } }
      },
      y: {
        min: 1.12, max: 12.49,
        afterBuildTicks: setTicks(yTicks),
        afterFit: function (axis) { axis.width = 22; axis.paddingTop = 0; axis.paddingBottom = 0; },
        border: { color: '#777', width: 1.5 },
        grid: { drawOnChartArea: false, tickLength: 3, color: '#ccc' },
        ticks: { font: tickFont, color: '#666', padding: 3, autoSkip: false }
      }
    }
  }
});
</script>
</body>
</html>
